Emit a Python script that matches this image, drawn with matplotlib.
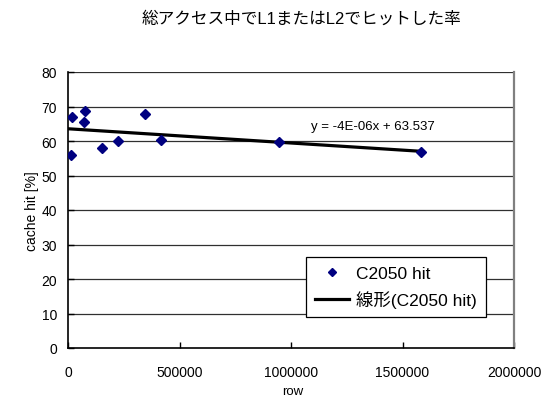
import matplotlib
matplotlib.use('Agg')
import matplotlib.pyplot as plt
import numpy as np

plt.rcParams['font.family'] = ['Liberation Sans', 'Noto Sans CJK JP', 'DejaVu Sans']

# values
rows = [14000, 17000, 78000, 71000, 153000, 225000, 345000, 416000, 947000, 1582000]
hits = [56.0, 67.0, 68.8, 65.4, 57.9, 60.0, 67.9, 60.3, 59.6, 56.7]
y_ticks = [0, 10, 20, 30, 40, 50, 60, 70, 80]
x_ticks = [0, 500000, 1000000, 1500000, 2000000]
series_name = 'C2050 hit'
trend_name = '線形(C2050 hit)'
title = '総アクセス中でL1またはL2でヒットした率'
eq_text = 'y = -4E-06x + 63.537'

# linear trendline like excel
slope, intercept = np.polyfit(rows, hits, 1)
trend_x = np.array([0, max(rows)])
trend_y = slope * trend_x + intercept

fig = plt.figure(figsize=(5.43, 4.06), dpi=100)
ax = fig.add_axes([68 / 543, 1 - 349 / 406, (514 - 68) / 543, (349 - 73) / 406])

for t in y_ticks[1:]:
    ax.axhline(t, color='#303030', lw=0.9, zorder=0)

ax.plot(rows, hits, linestyle='none', marker='D', markersize=5.5,
        color='#000080', label=series_name, zorder=3)
ax.plot(trend_x, trend_y, color='black', lw=2.3, label=trend_name, zorder=2)

ax.set_xlim(0, 2000000)
ax.set_ylim(0, 80)
ax.set_xticks(x_ticks)
ax.set_yticks(y_ticks)
ax.set_xticklabels([str(v) for v in x_ticks])
ax.tick_params(direction='in', length=4, width=1, labelsize=10, pad=12)
ax.tick_params(axis='y', pad=8)

ax.spines['top'].set_visible(False)
ax.spines['right'].set_color('#808080')
ax.spines['right'].set_linewidth(1.6)
ax.spines['left'].set_linewidth(1.2)
ax.spines['bottom'].set_linewidth(1.2)

ax.text(373 / 543, 1 - 127 / 406, eq_text, transform=fig.transFigure,
        ha='center', va='center', fontsize=9.5)

fig.text(301 / 543, 1 - 19 / 406, title, ha='center', va='center', fontsize=12)
fig.text(293 / 543, 1 - 392 / 406, 'row', ha='center', va='center', fontsize=9.5)
fig.text(32 / 543, 1 - 211 / 406, 'cache hit [%]', ha='center', va='center',
         rotation=90, fontsize=10)

leg = ax.legend(loc='lower left', bbox_to_anchor=(306 / 543, 1 - 318 / 406),
                bbox_transform=fig.transFigure, fontsize=12.5, frameon=True,
                fancybox=False, edgecolor='black', framealpha=1,
                borderpad=0.5, handlelength=2.0, handletextpad=0.4,
                labelspacing=0.55, borderaxespad=0, markerscale=0.8)
leg.get_frame().set_linewidth(0.9)

fig.savefig('out.png', dpi=100)
